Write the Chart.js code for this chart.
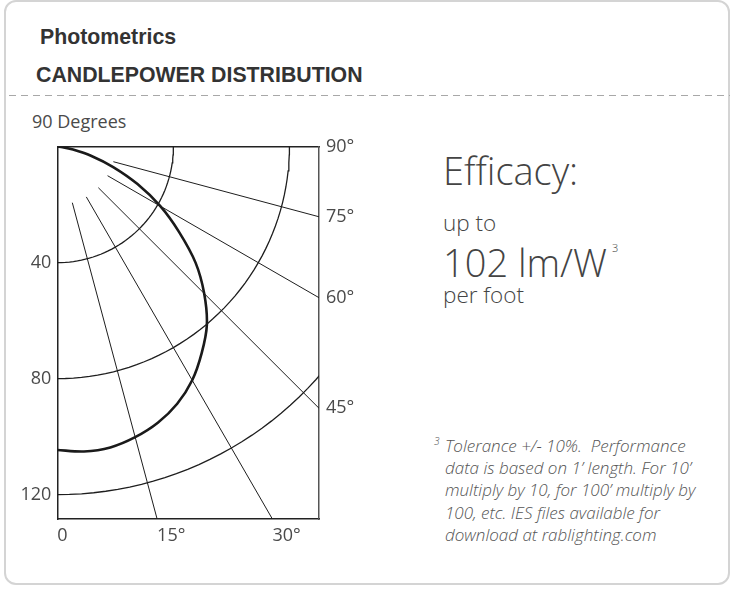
<!DOCTYPE html>
<html>
<head>
<meta charset="utf-8">
<script src="https://cdn.jsdelivr.net/npm/chart.js@4.4.0/dist/chart.umd.min.js"></script>
<style>
    body { margin: 0; width: 733px; height: 589px; background: #fff; position: relative; overflow: hidden; }
    .card { position: absolute; left: 4px; top: 0px; width: 722px; height: 581px; border: 2px solid #d4d4d4; border-radius: 12px; }
    .t { position: absolute; white-space: nowrap; color: #444; font-family: "Open Sans", sans-serif; font-weight: 300; }
    .h { font-family: "Liberation Sans", Arial, sans-serif; font-weight: bold; color: #333; font-size: 21.3px; line-height: 21px; }
    .dash { position: absolute; left: 9px; top: 95px; width: 721px; height: 1px;
            background: repeating-linear-gradient(to right, #a8a8a8 0 7px, transparent 7px 12px); }
    #wrap { position: absolute; left: 0; top: 100px; width: 380px; height: 450px; }
    .note { font-style: italic; font-size: 17px; line-height: 22.2px; color: #555; }
</style>
</head>
<body>
<div class="card"></div>
<div class="t h" style="left:40px; top:27px;">Photometrics</div>
<div class="t h" style="left:36px; top:65px;">CANDLEPOWER DISTRIBUTION</div>
<div class="dash"></div>
<div class="t" style="left:32px; top:112px; font-size:18px; line-height:18px; font-weight:400; color:#4a4a4a;">90 Degrees</div>

<div class="t" style="left:443px; top:151px; font-size:38px; line-height:38px;">Efficacy:</div>
<div class="t" style="left:443px; top:212px; font-size:22.5px; line-height:22px;">up to</div>
<div class="t" style="left:443px; top:243px; font-size:38px; line-height:38px;">102 lm/W</div>
<div class="t" style="left:612px; top:242px; font-size:11px; line-height:11px;">3</div>
<div class="t" style="left:443px; top:284px; font-size:22.5px; line-height:22px;">per foot</div>

<div class="t note" style="left:434px; top:436px; font-size:10px; line-height:10px;">3</div>
<div class="t note" style="left:445px; top:435px;">
Tolerance +/- 10%.&nbsp; Performance<br>
data is based on 1’ length. For 10’<br>
multiply by 10, for 100’ multiply by<br>
100, etc. IES files available for<br>
download at rablighting.com
</div>

<div id="wrap"><canvas id="grafik"></canvas></div>

<script>
// candela distribution (angle from nadir, degrees)
const angles = [0, 5, 10, 15, 20, 25, 30, 35, 40, 45, 50, 55, 60, 65, 70, 75, 80, 85, 90];
const candela = [104.6, 105.5, 105.3, 103.7, 101.3, 97.8, 93, 86.8, 80.2, 71.6, 62.2, 51.2, 41, 30.5, 20.5, 12, 5.5, 1.8, 0];

const rings = [40, 80, 120];
const spokeAngles = [15, 30, 45, 60, 75];
const spokeStart = 20;
const bottomAngles = [0, 15, 30];
const bottomLabels = ["0", "15°", "30°"];
const rightAngles = [90, 75, 60, 45];
const rightLabels = ["90°", "75°", "60°", "45°"];

const xMax = 90.2;
const yMax = 128.4;

const rad = d => d * Math.PI / 180;
const toXY = (deg, r) => ({ x: r * Math.sin(rad(deg)), y: r * Math.cos(rad(deg)) });

const datasets = [];

rings.forEach(r => {
    const pts = [];
    for (let a = 0; a <= 90; a += 2) pts.push(toXY(a, r));
    datasets.push({ data: pts, borderColor: "#1e1e1e", borderWidth: 1.3, pointRadius: 0, showLine: true, tension: 0 });
});

spokeAngles.forEach(a => {
    datasets.push({ data: [toXY(a, spokeStart), toXY(a, 250)], borderColor: "#1e1e1e", borderWidth: 1, pointRadius: 0, showLine: true });
});

datasets.push({
    data: angles.map((a, i) => toXY(a, candela[i])),
    borderColor: "#1a1a1a",
    borderWidth: 2.6,
    pointRadius: 0,
    showLine: true,
    tension: 0.3
});

const tickFont = { family: "Open Sans", weight: 400, size: 18 };
const tickColor = "#4a4a4a";
const frame = { display: true, color: "#222", width: 1.5 };

new Chart(document.getElementById("grafik"), {
    type: "scatter",
    data: { datasets },
    options: {
        responsive: true,
        maintainAspectRatio: false,
        animation: false,
        layout: { padding: { top: 46.7, left: 0, right: 0, bottom: 0 } },
        plugins: { legend: { display: false }, tooltip: { enabled: false } },
        scales: {
            x: {
                type: "linear", position: "bottom", min: 0, max: xMax,
                grid: { display: false, drawTicks: false },
                border: frame,
                afterBuildTicks: s => { s.ticks = bottomAngles.map(a => ({ value: yMax * Math.tan(rad(a)) })); },
                afterFit: s => { s.height = 31; },
                ticks: { autoSkip: false, maxRotation: 0, minRotation: 0, align: "start", padding: 6, color: tickColor, font: tickFont,
                    callback: (v, i) => bottomLabels[i] }
            },
            xTop: {
                type: "linear", position: "top", min: 0, max: xMax,
                grid: { display: false, drawTicks: false },
                border: frame,
                ticks: { display: false },
                afterFit: s => { s.height = 0; }
            },
            y: {
                type: "linear", position: "left", min: 0, max: yMax, reverse: true,
                grid: { display: false, drawTicks: false },
                border: frame,
                afterBuildTicks: s => { s.ticks = rings.map(r => ({ value: r })); },
                afterFit: s => { s.width = 57.3; },
                ticks: { autoSkip: false, padding: 6, color: tickColor, font: tickFont, callback: v => String(v) }
            },
            y2: {
                type: "linear", position: "right", min: 0, max: yMax, reverse: true,
                grid: { display: false, drawTicks: false },
                border: { display: true, color: "#555", width: 1.5 },
                afterBuildTicks: s => { s.ticks = rightAngles.map(a => ({ value: xMax / Math.tan(rad(a)) })); },
                afterFit: s => { s.width = 61; },
                ticks: { autoSkip: false, padding: 7, color: tickColor, font: tickFont, callback: (v, i) => rightLabels[i] }
            }
        }
    }
});
</script>
</body>
</html>
